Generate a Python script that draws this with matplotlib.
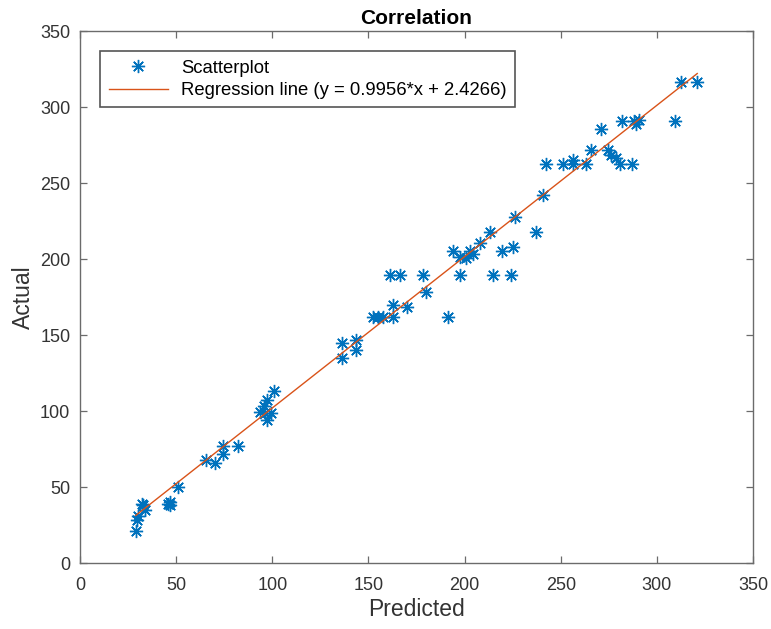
import numpy as np
import matplotlib
matplotlib.use("Agg")
import matplotlib.pyplot as plt

plt.rcParams["font.family"] = ["Liberation Sans", "DejaVu Sans"]

# values
predicted = [
    29, 29.5, 30, 32, 34, 33, 47, 47, 46, 51,
    65.5, 70, 74.5, 74.5, 82,
    93.5, 96, 97, 99.5, 95.5, 97.5, 101,
    136.5, 136.5, 143.5, 143.5,
    152.6, 155.2, 157.8, 163, 191.5,
    163, 170, 180,
    161.2, 166.5, 178.5, 197.5, 214.8, 224.3,
    194.1, 197.5, 201, 202.7, 204.2, 208, 219.3, 225.3, 213.2,
    226, 237.3, 240.7,
    242.5, 251, 256.3, 256.3, 263, 265.8, 271, 274.5, 276, 278.5, 281, 287,
    282, 288, 289, 290.5,
    309.5, 312.5, 321,
]
actual = [
    21, 28, 31, 39, 35, 38, 40, 38, 39, 50,
    68, 66, 77, 72, 77,
    99.5, 98.5, 94, 98.5, 103, 107, 113,
    144.5, 135, 147, 140,
    162, 162, 162, 162, 162,
    169.7, 168.6, 178.5,
    189.5, 189.5, 189.5, 189.5, 189.5, 189.5,
    205.5, 201.5, 200.4, 205.5, 203.5, 210.7, 205.5, 207.7, 218,
    227.8, 218, 242,
    262.5, 262.5, 265, 262.5, 262.5, 271.7, 285.3, 272, 268.4, 266.6, 262.5, 262.5,
    291, 291, 289, 291.5,
    291, 316.6, 316.6,
]
slope = 0.9956
intercept = 2.4266

blue = "#0072BD"
orange = "#D95319"
axis_gray = "#6b6b6b"
text_gray = "#333333"

fig = plt.figure(figsize=(7.71, 6.29), dpi=100)
ax = fig.add_axes([80 / 771, 1 - 563 / 629, 673 / 771, 532 / 629])

# MATLAB-like asterisk: plus and cross together
ax.plot(predicted, actual, linestyle="none", marker=(8, 2, 0), markersize=9.5,
        color=blue, markeredgewidth=1.0, label="Scatterplot")
line_x = np.array([min(predicted), max(predicted)])
ax.plot(line_x, slope * line_x + intercept, color=orange, linewidth=1.0,
        label="Regression line (y = 0.9956*x + 2.4266)")

ax.set_xlim(0, 350)
ax.set_ylim(0, 350)
ax.set_xticks(np.arange(0, 351, 50))
ax.set_yticks(np.arange(0, 351, 50))
ax.tick_params(direction="in", top=True, right=True, length=5, width=0.9,
               labelsize=13, colors=axis_gray, labelcolor=text_gray)
ax.tick_params(axis="x", pad=10)
ax.tick_params(axis="y", pad=7)
for sp in ax.spines.values():
    sp.set_color(axis_gray)
    sp.set_linewidth(1.0)

ax.set_xlabel("Predicted", fontsize=16.5, color=text_gray, labelpad=3)
ax.set_ylabel("Actual", fontsize=16.5, color=text_gray, labelpad=4)
ax.set_title("Correlation", fontsize=15, fontweight="bold", pad=5)

leg = ax.legend(loc="upper left", bbox_to_anchor=(0.03, 0.962), fontsize=13.3,
                fancybox=False, framealpha=1, edgecolor="#555555",
                handlelength=3.2, handletextpad=0.75, borderpad=0.45,
                labelspacing=0.3, borderaxespad=0)
leg.get_frame().set_linewidth(1.2)

fig.savefig("out.png", dpi=100)
